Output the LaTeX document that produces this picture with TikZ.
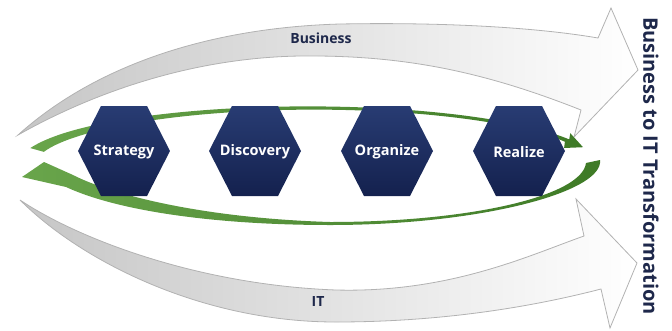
\documentclass[tikz,border=0pt]{standalone}
\usepackage{fontspec}
\setmainfont{Open Sans}
\begin{document}
\begin{tikzpicture}[x=1pt,y=-1pt,
  declare function={wt(\s)=2.5+11.5*(1-\s)^4+2.5*\s^4;},
  band/.style={draw=gray!60,line width=0.8pt,left color=gray!45,right color=white,shading angle=90},
  hexfill/.style={top color={rgb,255:red,40;green,60;blue,115},bottom color={rgb,255:red,20;green,33;blue,78},draw=none},
  hexlabel/.style={text=white,font=\bfseries\fontsize{14.5}{16}\selectfont,inner sep=0pt},
  navytext/.style={text={rgb,255:red,30;green,40;blue,75},font=\bfseries\fontsize{14}{16}\selectfont,inner sep=0pt},
  ringfill/.style={left color={rgb,255:red,105;green,165;blue,75},right color={rgb,255:red,62;green,122;blue,38},draw=none}]
\useasboundingbox (0,0) rectangle (672,330);
% Business band
\path[band] (18,135) .. controls (90,70) and (200,28) .. (340,24)
  .. controls (450,22) and (540,28) .. (598,38)
  -- (611,8) -- (638,70) -- (574,137) -- (581,110)
  .. controls (480,70) and (400,55) .. (300,56)
  .. controls (180,58) and (80,100) .. (18,135) -- cycle;
% IT band
\path[band] (20,200) .. controls (80,240) and (200,285) .. (336,290)
  .. controls (450,293) and (530,255) .. (584,236)
  -- (576,199) -- (637,263) -- (610,328) -- (601,289)
  .. controls (520,310) and (430,322) .. (336,322)
  .. controls (200,322) and (80,260) .. (20,200) -- cycle;
% green ring, top arc
\path[ringfill] plot[domain=0:1,samples=80,variable=\s]
   ({311+(285+0.5*wt(\s))*cos(164-138*\s)},{166-(58+0.5*wt(\s))*sin(164-138*\s)})
   -- (570.3,133.2) -- (583,147.2) -- (564.1,148.0)
   -- plot[domain=0:1,samples=80,variable=\u]
   ({311+(285-0.5*wt(1-\u))*cos(164-138*(1-\u))},{166-(58-0.5*wt(1-\u))*sin(164-138*(1-\u))}) -- cycle;
% green ring, bottom arc
\path[ringfill] (600,160) .. controls (604,192) and (480,225) .. (330,225)
  .. controls (220,225) and (120,212) .. (66,187)
  -- (22,177) -- (44,162) -- (73,175)
  .. controls (110,194) and (200,218) .. (330,222)
  .. controls (470,222) and (582,196) .. (586,163) -- cycle;
% hexagons
\foreach \cx/\nm/\lab in {124/strategy/Strategy,255/discovery/Discovery,387/organize/Organize,519/realize/Realize}{
  \path[hexfill] (\cx-46,151) -- (\cx-23,106) -- (\cx+23,106) -- (\cx+46,151) -- (\cx+23,196) -- (\cx-23,196) -- cycle;
  \node[hexlabel] (\nm) at (\cx,152) {\lab};
}
% labels
\node[navytext] (business) at (321,38) {Business};
\node[navytext] (it) at (318,301) {IT};
\node[navytext,rotate=-90,font=\bfseries\fontsize{20}{22}\selectfont] (title) at (651,166) {Business to IT Transformation};
\end{tikzpicture}
\end{document}
